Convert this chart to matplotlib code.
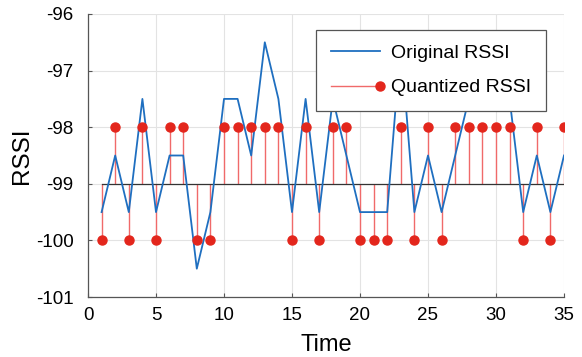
import matplotlib
matplotlib.use("Agg")
import matplotlib.pyplot as plt
from matplotlib.lines import Line2D
from matplotlib.legend_handler import HandlerBase

plt.rcParams['font.family'] = ['Liberation Sans', 'DejaVu Sans']
plt.rcParams['axes.unicode_minus'] = False

time = list(range(1, 36))
original_rssi = [-99.5, -98.5, -99.5, -97.5, -99.5, -98.5, -98.5, -100.5, -99.5, -97.5,
                 -97.5, -98.5, -96.5, -97.5, -99.5, -97.5, -99.5, -97.5, -98.5, -99.5,
                 -99.5, -99.5, -96.5, -99.5, -98.5, -99.5, -98.5, -97.5, -96.5, -97.5,
                 -97.5, -99.5, -98.5, -99.5, -98.5]
quantized_rssi = [-100, -98, -100, -98, -100, -98, -98, -100, -100, -98,
                  -98, -98, -98, -98, -100, -98, -100, -98, -98, -100,
                  -100, -100, -98, -100, -98, -100, -98, -98, -98, -98,
                  -98, -100, -98, -100, -98]
baseline = -99
xticks = [0, 5, 10, 15, 20, 25, 30, 35]
yticks = [-101, -100, -99, -98, -97, -96]

STEM_C = '#f06a6a'
MARK_C = '#e3261c'
LINE_C = '#1f6fc0'

fig = plt.figure(figsize=(5.82, 3.57), dpi=100)
ax = fig.add_axes([88/582, 1-297/357, (564-88)/582, (297-14)/357])

line, = ax.plot(time, original_rssi, color=LINE_C, lw=1.3, zorder=3)
ml, sl, bl = ax.stem(time, quantized_rssi, bottom=baseline)
plt.setp(sl, color=STEM_C, lw=1.0)
plt.setp(ml, color=MARK_C, marker='o', markersize=6.5, zorder=4)
plt.setp(bl, color='#333333', lw=0.9)

ax.set_xlim(0, 35)
ax.set_ylim(-101, -96)
ax.set_xticks(xticks)
ax.set_yticks(yticks)
ax.grid(True, color='#e3e3e3', lw=0.8)
ax.set_axisbelow(True)
for s in ['top', 'right']:
    ax.spines[s].set_visible(False)
for s in ['left', 'bottom']:
    ax.spines[s].set_color('#555555')
    ax.spines[s].set_linewidth(0.9)
ax.tick_params(direction='in', length=3, labelsize=13.5, color='#555555')
ax.tick_params(axis='y', pad=10.5)
ax.tick_params(axis='x', pad=7.5)
ax.set_xlabel('Time', fontsize=17)
ax.set_ylabel('RSSI', fontsize=17.5)
ax.xaxis.set_label_coords(0.5, (297-334)/283)
ax.xaxis.label.set_va('top')
ax.yaxis.set_label_coords((33-88)/476, 0.5)


class StemHandler(HandlerBase):
    def create_artists(self, legend, orig_handle, xdescent, ydescent, width, height, fontsize, trans):
        y = height / 2 - ydescent
        l = Line2D([-xdescent, -xdescent + width], [y, y], color=STEM_C, lw=1.0)
        m = Line2D([-xdescent + width], [y], marker='o', color=MARK_C, markersize=6.5, ls='none')
        l.set_transform(trans)
        m.set_transform(trans)
        return [l, m]


stem_handle = Line2D([], [], color=STEM_C)
leg = ax.legend([line, stem_handle], ['Original RSSI', 'Quantized RSSI'],
                handler_map={stem_handle: StemHandler()},
                loc='upper right', bbox_to_anchor=(546/582, 1-30/357), bbox_transform=fig.transFigure,
                borderaxespad=0,
                fontsize=14, frameon=True, fancybox=False, edgecolor='#555555', framealpha=1,
                handlelength=2.5, borderpad=0.75, labelspacing=0.85, handletextpad=0.6)
leg.get_frame().set_linewidth(0.9)
leg.set_zorder(10)

fig.savefig('out.png', dpi=100)
